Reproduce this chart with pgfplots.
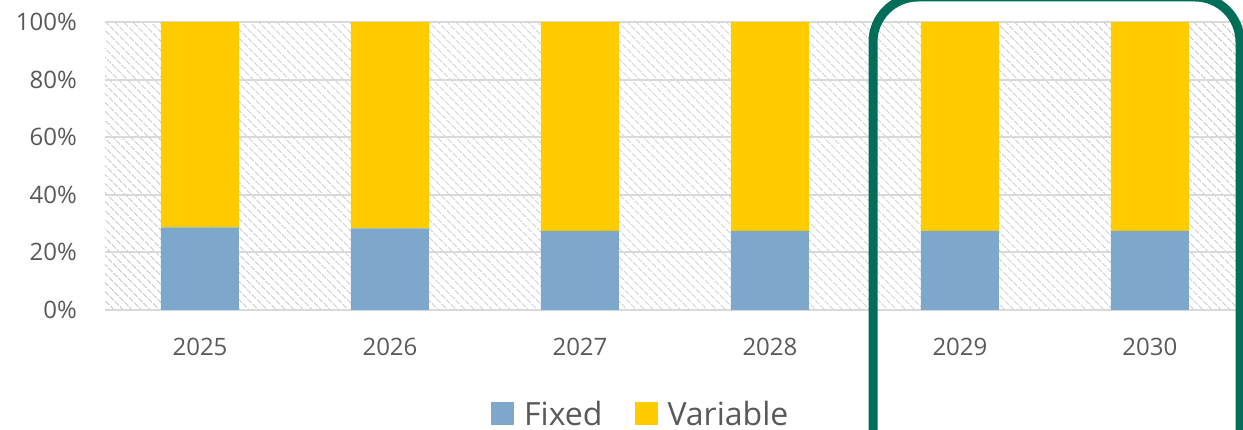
\documentclass[border=0pt]{standalone}
\usepackage{fontspec}
\setmainfont{Open Sans}
\usepackage{pgfplots}
\pgfplotsset{compat=1.18}
\usetikzlibrary{patterns.meta}
\definecolor{txtgray}{RGB}{89,89,89}
\definecolor{gridgray}{RGB}{217,217,217}
\definecolor{hatchgray}{RGB}{212,212,212}
\definecolor{fixedblue}{RGB}{126,168,203}
\definecolor{varyellow}{RGB}{255,204,0}
\definecolor{hlgreen}{RGB}{0,110,88}
\pgfplotstableread{
x fixed variable
0 28.7 71.3
1 28.3 71.7
2 27.5 72.5
3 27.5 72.5
4 27.5 72.5
5 27.5 72.5
}\datatable
\begin{document}
\begin{tikzpicture}
\begin{axis}[
  at={(105pt,120pt)}, anchor=south west,
  scale only axis, width=1140pt, height=288pt,
  xmin=-0.5, xmax=5.5, ymin=0, ymax=100,
  ybar stacked, bar width=78pt,
  xtick=data, xticklabels={2025,2026,2027,2028,2029,2030},
  ytick={0,20,40,60,80,100},
  yticklabel={\pgfmathprintnumber{\tick}\%},
  /pgf/number format/assume math mode=true,
  axis line style={draw=none},
  major tick length=0pt,
  ymajorgrids, grid style={gridgray, line width=2pt},
  axis on top=false,
  axis background/.style={pattern={Lines[angle=-45,distance=6.4pt,line width=1.4pt]}, pattern color=hatchgray},
  tick label style={font=\fontsize{24}{28}\selectfont, text=txtgray, inner sep=0pt},
  xticklabel style={anchor=north, yshift=-28pt},
  yticklabel style={anchor=east, xshift=-28pt},
  legend columns=2,
  legend style={at={(0.470,-0.36)}, anchor=center, draw=none, fill=none,
    font=\fontsize{32}{36}\selectfont, text=txtgray, inner sep=0pt,
    /tikz/every odd column/.append style={column sep=8pt},
    /tikz/every even column/.append style={column sep=30pt}},
  legend image code/.code={\fill[#1] (0pt,-11.5pt) rectangle (23pt,11.5pt);},
]
\addplot[fill=fixedblue, draw=none] table[x=x, y=fixed] {\datatable};
\addplot[fill=varyellow, draw=none] table[x=x, y=variable] {\datatable};
\legend{Fixed, Variable}
\end{axis}
\draw[hlgreen, line width=9pt, rounded corners=45pt] (873pt,433pt) rectangle (1240pt,-60pt);
\pgfresetboundingbox
\useasboundingbox (0pt,0pt) rectangle (1243pt,430pt);
\end{tikzpicture}
\end{document}
